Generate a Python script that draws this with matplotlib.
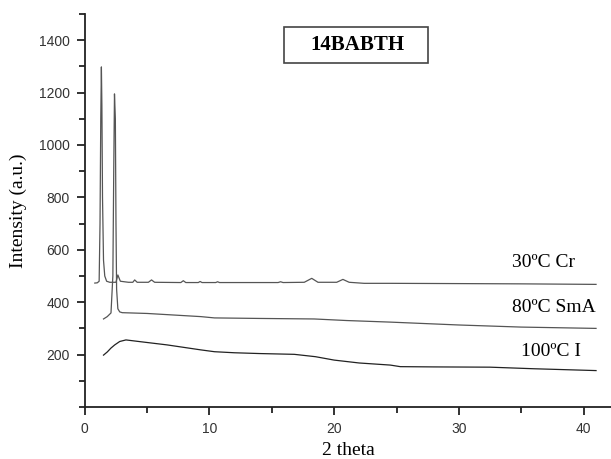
import matplotlib
matplotlib.use("Agg")
import matplotlib.pyplot as plt
from matplotlib.patches import Rectangle
from matplotlib.ticker import MultipleLocator

# ---- data ----
x_cr = [0.8, 1.0, 1.15, 1.22, 1.28, 1.33, 1.37, 1.42, 1.5, 1.6, 1.75, 2.0, 2.5, 2.65, 2.85,
        3.5, 3.85, 4.0, 4.2, 5.1, 5.35, 5.6, 7.7, 7.9, 8.1, 9.1, 9.25, 9.4, 10.5, 10.65, 10.8,
        15.5, 15.7, 15.9, 17.6, 18.2, 18.7, 20.2, 20.7, 21.2, 22.4, 24.5, 30, 35, 41]
y_cr = [473, 474, 480, 700, 1100, 1298, 1150, 800, 560, 500, 480, 476, 476, 504, 480,
        476, 476, 485, 476, 476, 485, 476, 475, 482, 475, 475, 479, 475, 475, 478, 475,
        475, 478, 475, 476, 491, 476, 476, 487, 476, 472, 472, 471, 470, 468]

x_sma = [1.5, 1.8, 2.1, 2.25, 2.32, 2.38, 2.45, 2.5, 2.55, 2.65, 2.8, 3.0, 5.0, 9.3, 10.4,
         14.0, 18.4, 21.0, 24.5, 30.0, 35.0, 41.0]
y_sma = [336, 345, 359, 500, 900, 1195, 1100, 700, 450, 375, 363, 360, 357, 345, 340,
         338, 336, 330, 324, 313, 305, 300]

x_iso = [1.5, 1.8, 2.1, 2.4, 2.8, 3.3, 4.5, 6.6, 9.3, 10.4, 12.0, 14.0, 16.8, 18.5, 20.0,
         22.0, 24.5, 25.3, 28.0, 32.5, 36.0, 41.0]
y_iso = [198, 210, 225, 237, 250, 256, 249, 237, 218, 211, 207, 204, 201, 192, 179,
         168, 160, 154, 153, 152, 146, 139]

labels = ["30\u00baC Cr", "80\u00baC SmA", "100\u00baC I"]
title_text = "14BABTH"

# ---- figure ----
serif = ["Liberation Serif", "DejaVu Serif"]
sans = ["Liberation Sans", "DejaVu Sans"]

fig = plt.figure(figsize=(6.11, 4.59), dpi=100)
ax = fig.add_axes([0.1388, 0.1133, 0.8612, 0.8562])

ax.plot(x_cr, y_cr, color="#555555", lw=0.9)
ax.plot(x_sma, y_sma, color="#555555", lw=0.9)
ax.plot(x_iso, y_iso, color="#222222", lw=0.9)

ax.set_xlim(0, 42.2)
ax.set_ylim(0, 1500)
ax.xaxis.set_major_locator(MultipleLocator(10))
ax.xaxis.set_minor_locator(MultipleLocator(5))
ax.yaxis.set_major_locator(MultipleLocator(200))
ax.yaxis.set_minor_locator(MultipleLocator(100))
ax.set_yticks([200, 400, 600, 800, 1000, 1200, 1400])
ax.yaxis.set_minor_locator(MultipleLocator(100))

for s in ("top", "right"):
    ax.spines[s].set_visible(False)
for s in ("left", "bottom"):
    ax.spines[s].set_linewidth(1.3)
    ax.spines[s].set_color("#222222")

ax.tick_params(which="major", direction="out", length=6, width=1.3, colors="#222222",
               labelsize=10, pad=5)
ax.tick_params(which="minor", direction="out", length=4, width=1.3, colors="#222222")
for lab in ax.get_xticklabels() + ax.get_yticklabels():
    lab.set_family(sans)
    lab.set_color("#333333")

ax.set_xlabel("2 theta", family=serif, fontsize=14, labelpad=4)
ax.set_ylabel("Intensity (a.u.)", family=serif, fontsize=14, labelpad=8)

ax.text(36.8, 550, labels[0], family=serif, fontsize=14, ha="center", va="center")
ax.text(37.6, 378, labels[1], family=serif, fontsize=14, ha="center", va="center")
ax.text(37.4, 210, labels[2], family=serif, fontsize=14, ha="center", va="center")

ax.add_patch(Rectangle((15.94, 1312), 11.6, 139, fill=False, lw=1.2, ec="#444444"))
ax.text(21.9, 1383, title_text, family=serif, fontsize=15, fontweight="bold",
        ha="center", va="center")

fig.savefig("out.png", dpi=100)
